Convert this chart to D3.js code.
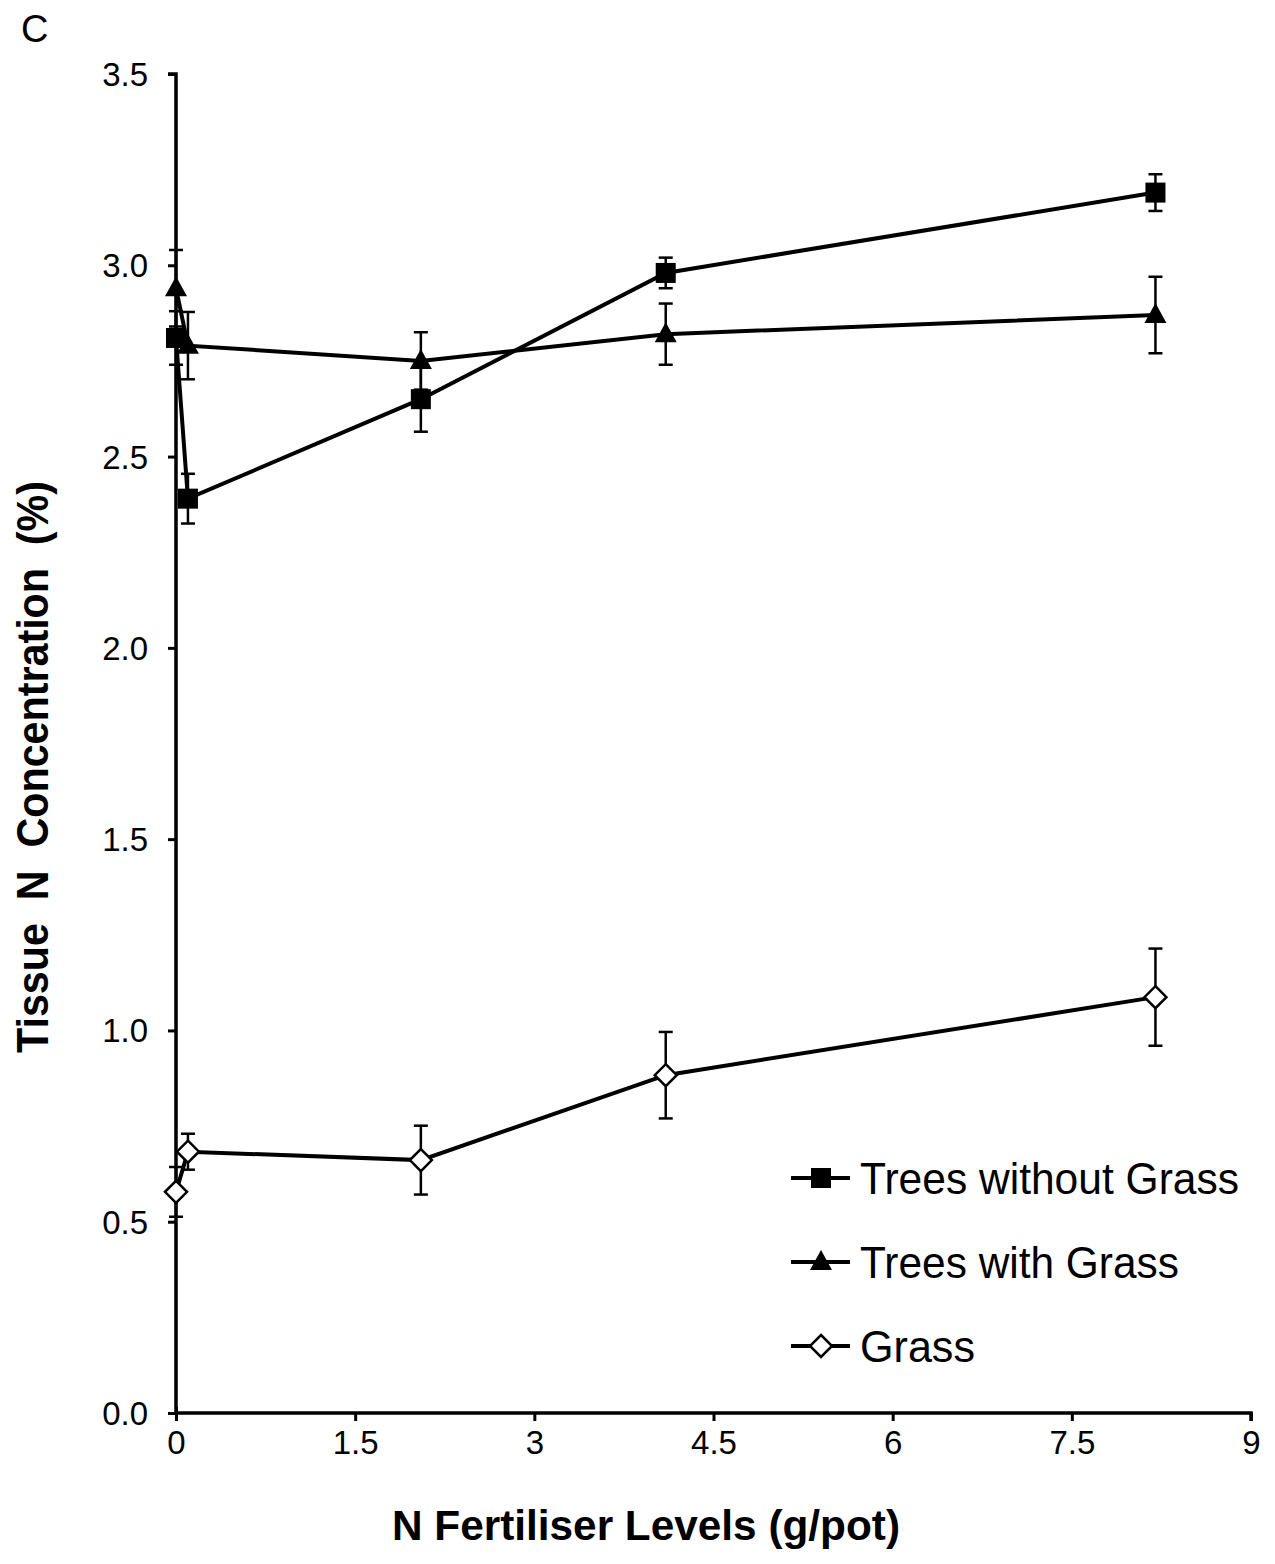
<!DOCTYPE html>
<html>
<head>
<meta charset="utf-8">
<script src="https://cdn.jsdelivr.net/npm/d3@7"></script>
<style>
  body { margin: 0; background: #fff; }
  svg { font-family: "Liberation Sans", Arial, sans-serif; }
</style>
</head>
<body>
<div id="chart"></div>
<script>
// N fertiliser levels (g/pot)
const levels = [0, 0.1, 2.05, 4.1, 8.2];

// Tissue N concentration (%) and error bar half-widths
const treesNoGrass = [2.81, 2.39, 2.65, 2.98, 3.19];
const treesNoGrassErr = [0.07, 0.065, 0.085, 0.04, 0.048];
const treesGrass = [2.94, 2.79, 2.75, 2.82, 2.87];
const treesGrassErr = [0.10, 0.088, 0.075, 0.08, 0.10];
const grass = [0.578, 0.683, 0.661, 0.883, 1.087];
const grassErr = [0.065, 0.047, 0.09, 0.113, 0.127];

const xTicks = [0, 1.5, 3, 4.5, 6, 7.5, 9];
const yTicks = [0, 0.5, 1.0, 1.5, 2.0, 2.5, 3.0, 3.5];

const seriesNames = ["Trees without Grass", "Trees with Grass", "Grass"];

const W = 1275, H = 1564;
const svg = d3.select("#chart").append("svg")
    .attr("width", W).attr("height", H);

const x = d3.scaleLinear().domain([0, 9]).range([176, 1251]);
const y = d3.scaleLinear().domain([0, 3.5]).range([1413, 74]);

const series = [
    { name: seriesNames[0], vals: treesNoGrass, err: treesNoGrassErr, shape: "square" },
    { name: seriesNames[1], vals: treesGrass, err: treesGrassErr, shape: "triangle" },
    { name: seriesNames[2], vals: grass, err: grassErr, shape: "diamond" }
];

// marker drawing
function marker(g, shape, cx, cy) {
    if (shape === "square") {
        g.append("rect").attr("x", cx - 10).attr("y", cy - 10)
            .attr("width", 20).attr("height", 20).attr("fill", "#000");
    } else if (shape === "triangle") {
        g.append("path")
            .attr("d", `M${cx},${cy - 12}L${cx + 11},${cy + 8}L${cx - 11},${cy + 8}Z`)
            .attr("fill", "#000");
    } else {
        g.append("path")
            .attr("d", `M${cx},${cy - 11}L${cx + 11},${cy}L${cx},${cy + 11}L${cx - 11},${cy}Z`)
            .attr("fill", "#fff").attr("stroke", "#000").attr("stroke-width", 2.5);
    }
}

// axes
const yAxis = svg.append("g").attr("transform", `translate(${x(0)},0)`)
    .call(d3.axisLeft(y).tickValues(yTicks).tickSize(8).tickFormat(d3.format(".1f")));
const xAxis = svg.append("g").attr("transform", `translate(0,${y(0)})`)
    .call(d3.axisBottom(x).tickValues(xTicks).tickSize(8).tickFormat(d => d));

[yAxis, xAxis].forEach(a => {
    a.select(".domain").attr("stroke", "#000").attr("stroke-width", 3.5);
    a.selectAll(".tick line").attr("stroke", "#000").attr("stroke-width", 3);
    a.selectAll(".tick text").attr("fill", "#000")
        .style("font-size", "33px").style("font-family", "Liberation Sans, Arial, sans-serif");
});
yAxis.select(".domain").attr("d", `M0,${y(0)}V${y(3.5)}H-8`);
xAxis.select(".domain").attr("d", `M${x(0)},0H${x(9)}V8`);
yAxis.selectAll(".tick text").attr("x", -28).attr("dy", "0.35em");
xAxis.selectAll(".tick text").attr("y", 18);
// extend 0 tick of x axis above
xAxis.selectAll(".tick").filter(d => d === 0).select("line").attr("y1", -6);

// lines
const line = d3.line().x((d, i) => x(levels[i])).y(d => y(d));
series.forEach(s => {
    svg.append("path").datum(s.vals)
        .attr("d", line).attr("fill", "none")
        .attr("stroke", "#000").attr("stroke-width", 4);
});

// error bars
series.forEach(s => {
    const g = svg.append("g").attr("stroke", "#000").attr("stroke-width", 2.5);
    s.vals.forEach((v, i) => {
        const cx = x(levels[i]);
        const top = y(v + s.err[i]), bot = y(v - s.err[i]);
        g.append("line").attr("x1", cx).attr("x2", cx).attr("y1", top).attr("y2", bot);
        g.append("line").attr("x1", cx - 7).attr("x2", cx + 7).attr("y1", top).attr("y2", top);
        g.append("line").attr("x1", cx - 7).attr("x2", cx + 7).attr("y1", bot).attr("y2", bot);
    });
});

// markers
series.forEach(s => {
    const g = svg.append("g");
    s.vals.forEach((v, i) => marker(g, s.shape, x(levels[i]), y(v)));
});

// legend
const legend = svg.append("g");
const lens = [379, 319, 115];
series.forEach((s, i) => {
    const ly = 1178 + i * 84;
    legend.append("line").attr("x1", 791).attr("x2", 850).attr("y1", ly).attr("y2", ly)
        .attr("stroke", "#000").attr("stroke-width", 4);
    marker(legend, s.shape, 821, ly);
    legend.append("text").attr("x", 860).attr("y", ly + 16)
        .style("font-size", "44px")
        .attr("textLength", lens[i]).attr("lengthAdjust", "spacingAndGlyphs")
        .text(s.name);
});

// axis titles
svg.append("text")
    .attr("x", 646).attr("y", 1540).attr("text-anchor", "middle")
    .style("font-size", "43px").style("font-weight", "bold")
    .attr("textLength", 508).attr("lengthAdjust", "spacingAndGlyphs")
    .text("N Fertiliser Levels (g/pot)");

svg.append("text")
    .attr("transform", "translate(48,767) rotate(-90)")
    .attr("text-anchor", "middle")
    .style("font-size", "44px").style("font-weight", "bold")
    .style("white-space", "pre")
    .attr("textLength", 572).attr("lengthAdjust", "spacingAndGlyphs")
    .text("Tissue  N  Concentration  (%)");

// panel label
svg.append("text").attr("x", 21).attr("y", 42)
    .style("font-size", "38px").text("C");
</script>
</body>
</html>
